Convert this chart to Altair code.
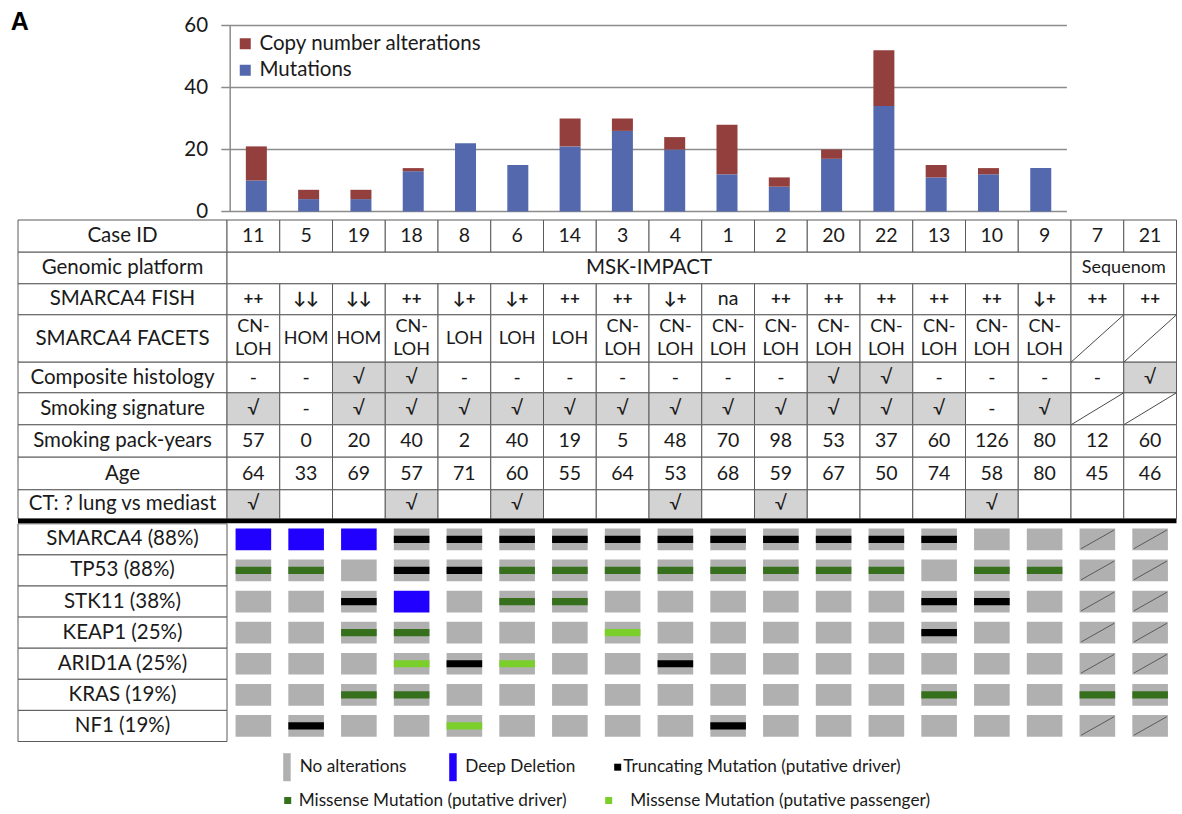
import altair as alt
import pandas as pd

# ---------------- data ----------------
cases = ["11", "5", "19", "18", "8", "6", "14", "3", "4", "1", "2", "20", "22", "13", "10", "9", "7", "21"]
bar_cases = cases[:16]
mutations = [10, 4, 4, 13, 22, 15, 21, 26, 20, 12, 8, 17, 34, 11, 12, 14]
copy_number = [11, 3, 3, 1, 0, 0, 9, 4, 4, 16, 3, 3, 18, 4, 2, 0]
series_names = ["Copy number alterations", "Mutations"]
y_ticks = [0, 20, 40, 60]

platforms = ["MSK-IMPACT", "Sequenom"]
platform_counts = [16, 2]

fish = ["++", "↓↓", "↓↓", "++", "↓+", "↓+", "++", "++", "↓+", "na", "++", "++", "++", "++", "++", "↓+", "++", "++"]
facets = ["CN-\nLOH", "HOM", "HOM", "CN-\nLOH", "LOH", "LOH", "LOH"] + ["CN-\nLOH"] * 9 + [None, None]
composite = ["-", "-", "√", "√", "-", "-", "-", "-", "-", "-", "-", "√", "√", "-", "-", "-", "-", "√"]
smoking_sig = ["√", "-", "√", "√", "√", "√", "√", "√", "√", "√", "√", "√", "√", "√", "-", "√", None, None]
pack_years = [57, 0, 20, 40, 2, 40, 19, 5, 48, 70, 98, 53, 37, 60, 126, 80, 12, 60]
age = [64, 33, 69, 57, 71, 60, 55, 64, 53, 68, 59, 67, 50, 74, 58, 80, 45, 46]
ct_flag = ["√", "", "", "√", "", "√", "", "", "√", "", "√", "", "", "", "√", "", "", ""]

row_labels = ["Case ID", "Genomic platform", "SMARCA4 FISH", "SMARCA4 FACETS",
              "Composite histology", "Smoking signature", "Smoking pack-years",
              "Age", "CT: ? lung vs mediast"]

genes = ["SMARCA4 (88%)", "TP53 (88%)", "STK11 (38%)", "KEAP1 (25%)",
         "ARID1A (25%)", "KRAS (19%)", "NF1 (19%)"]
# N none, D deep deletion, T truncating, M missense driver, P missense passenger, X not profiled
onco_smarca4 = list("DDDTTTTTTTTTTTNNXX")
onco_tp53 = list("MMNTTMMMMMMMMNMMXX")
onco_stk11 = list("NNTDNMMNNNNNNTTNXX")
onco_keap1 = list("NNMMNNNPNNNNNTNNXX")
onco_arid1a = list("NNNPTPNNTNNNNNNNXX")
onco_kras = list("NNMMNNNNNNNNNMNNMM")
onco_nf1 = list("NTNNPNNNNTNNNNNNXX")
onco = [onco_smarca4, onco_tp53, onco_stk11, onco_keap1, onco_arid1a, onco_kras, onco_nf1]

legend_labels = ["No alterations", "Deep Deletion", "Truncating Mutation (putative driver)",
                 "Missense Mutation (putative driver)", "Missense Mutation (putative passenger)"]

# ---------------- styles / layout ----------------
FONT = "Lato"
TXT = "#1a1a1a"
BLUE = "#5469ad"
RED = "#923f3d"
GRID_C = "#8c8c8c"
BORDER_C = "#5a5a5a"
SHADE_C = "#d3d3d3"
GRAY_C = "#b0b0b0"
DEEP_C = "#2200ff"
TRUNC_C = "#000000"
MDRV_C = "#36701c"
MPAS_C = "#7bcf2a"
code_color = {"T": TRUNC_C, "M": MDRV_C, "P": MPAS_C}
legend_colors = [GRAY_C, DEEP_C, TRUNC_C, MDRV_C, MPAS_C]

COL_W = 52.75
LAB_W = 209.0
N_COL = len(cases)
XL = -LAB_W / COL_W
PLOT_W = LAB_W + N_COL * COL_W
BAR_H = 186.0
TICK_LEN = 8.5
GAP = 8.5
ROW_H = [32.2, 31.6, 31.0, 47.4, 30.6, 32.0, 32.4, 32.6, 29.0]
THICK_Y = 301.0
ONCO_TOP = 303.8
ONCO_H = 31.1
CELL_W = 35.6
CELL_H = 21.7
MUT_H = 7.2
LINE_H = 23.4
PANEL_H = 590.0
PAGE_X0 = 21.8      # page x of the panels' left edge
PAGE_Y0 = 219.5     # page y of the table top


def ux(px):
    return (px - PAGE_X0 - LAB_W) / COL_W


def vy(py):
    return py - PAGE_Y0


# ---------------- bar panel ----------------
bar_rows = []
for i, c in enumerate(bar_cases):
    bar_rows.append({"case": c, "xc": i + 0.5, "series": "Mutations", "value": mutations[i], "ord": 0})
    bar_rows.append({"case": c, "xc": i + 0.5, "series": "Copy number alterations", "value": copy_number[i], "ord": 1})
bar_df = pd.DataFrame(bar_rows)

xs_bar = alt.Scale(domain=[XL, N_COL], nice=False, zero=False)
ys_bar = alt.Scale(domain=[0, 60], nice=False, zero=True)

grid = alt.Chart(pd.DataFrame({"v": y_ticks})).mark_rule(
    color=GRID_C, strokeWidth=1.5
).encode(
    y=alt.Y("v:Q", scale=ys_bar, axis=None),
    x=alt.X(datum=-9 / COL_W, type="quantitative", scale=xs_bar, axis=None),
    x2=alt.X2(datum=len(bar_cases)),
)

y_domain = alt.Chart(pd.DataFrame({"y0": [y_ticks[0]], "y1": [y_ticks[-1]]})).mark_rule(
    color=GRID_C, strokeWidth=1.5
).encode(
    x=alt.X(datum=0, type="quantitative", scale=xs_bar, axis=None),
    y=alt.Y("y0:Q", scale=ys_bar, axis=None), y2="y1",
)

y_labels = alt.Chart(pd.DataFrame({"v": y_ticks})).mark_text(
    font=FONT, fontSize=20.5, color=TXT, align="right", baseline="middle"
).encode(
    x=alt.X(datum=ux(208.5), type="quantitative", scale=xs_bar, axis=None),
    y=alt.Y("v:Q", scale=ys_bar, axis=None),
    text="v:Q",
)

bars = alt.Chart(bar_df).mark_bar(size=21).encode(
    x=alt.X("xc:Q", scale=xs_bar,
            axis=alt.Axis(values=list(range(len(bar_cases) + 1)), labels=False, domain=False,
                          grid=False, ticks=True, tickSize=TICK_LEN, tickColor=GRID_C,
                          tickWidth=1.5, title=None)),
    y=alt.Y("value:Q", stack="zero", scale=ys_bar, axis=None),
    color=alt.Color("series:N", scale=alt.Scale(domain=series_names, range=[RED, BLUE]),
                    legend=alt.Legend(orient="none", legendX=217, legendY=8, title=None,
                                      symbolType="square", symbolSize=121, symbolStrokeWidth=0,
                                      labelFont=FONT, labelFontSize=20.5, labelColor=TXT,
                                      labelLimit=400, rowPadding=5.5, labelOffset=4, padding=0)),
    order=alt.Order("ord:Q"),
)

panel_label = alt.Chart(pd.DataFrame({"t": ["A"]})).mark_text(
    font="Liberation Sans", fontWeight="bold", fontSize=25, align="left", baseline="top", color="#000"
).encode(
    x=alt.X(datum=ux(9.5), type="quantitative", scale=xs_bar, axis=None),
    y=alt.Y(datum=60 + 16 / (BAR_H / 60), type="quantitative", scale=ys_bar, axis=None),
    text="t:N",
)

bar_panel = alt.layer(grid, y_domain, bars, y_labels, panel_label).properties(width=PLOT_W, height=BAR_H)

# ---------------- table panel ----------------
xs = alt.Scale(domain=[XL, N_COL], nice=False, zero=False)
ys = alt.Scale(domain=[0, PANEL_H], nice=False, zero=False, reverse=True)


def X(f):
    return alt.X(f, type="quantitative", scale=xs, axis=None)


def Y(f):
    return alt.Y(f, type="quantitative", scale=ys, axis=None)


values_by_row = {0: cases, 2: fish, 3: facets, 4: composite, 5: smoking_sig,
                 6: pack_years, 7: age, 8: ct_flag}
shaded_rows = {4, 5, 8}

cells, texts, slashes = [], [], []
y = 0.0
for r, lab in enumerate(row_labels):
    y0, y1 = y, y + ROW_H[r]
    ym = (y0 + y1) / 2
    cells.append({"x0": XL, "x1": 0, "y0": y0, "y1": y1, "fill": "#ffffff"})
    texts.append({"x": XL / 2, "y": ym, "text": lab, "style": "label"})
    if r == 1:
        start = 0
        for name, n in zip(platforms, platform_counts):
            cells.append({"x0": start, "x1": start + n, "y0": y0, "y1": y1, "fill": "#ffffff"})
            texts.append({"x": start + n / 2, "y": ym, "text": name,
                          "style": "label" if n > 2 else "small"})
            start += n
    else:
        for i, v in enumerate(values_by_row[r]):
            fill = SHADE_C if (r in shaded_rows and v == "√") else "#ffffff"
            cells.append({"x0": i, "x1": i + 1, "y0": y0, "y1": y1, "fill": fill})
            if v is None:
                slashes.append({"x0": i, "x1": i + 1, "yb": y1, "yt": y0})
            elif v != "":
                s = str(v)
                style = "cell"
                if r == 2 and s != "na":
                    style = "fish"
                elif r == 3:
                    style = "facets"
                n_lines = s.count("\n") + 1
                texts.append({"x": i + 0.5, "y": ym - (n_lines - 1) * LINE_H / 2,
                              "text": s, "style": style})
    y = y1

# oncoprint
gene_cells, gene_texts, base, muts, oslash = [], [], [], [], []
hw = CELL_W / 2 / COL_W
for g, codes in enumerate(onco):
    t0 = ONCO_TOP + g * ONCO_H
    yc = t0 + ONCO_H / 2
    gene_cells.append({"x0": XL, "x1": 0, "y0": t0, "y1": t0 + ONCO_H})
    gene_texts.append({"x": XL / 2, "y": yc, "text": genes[g]})
    for i, c in enumerate(codes):
        xc = i + 0.5
        base.append({"x0": xc - hw, "x1": xc + hw, "y0": yc - CELL_H / 2, "y1": yc + CELL_H / 2,
                     "fill": DEEP_C if c == "D" else GRAY_C})
        if c in code_color:
            muts.append({"x0": xc - hw, "x1": xc + hw, "y0": yc - MUT_H / 2, "y1": yc + MUT_H / 2,
                         "fill": code_color[c]})
        if c == "X":
            oslash.append({"x0": xc - hw + 1.5 / COL_W, "x1": xc + hw - 1 / COL_W,
                           "yb": yc + CELL_H / 2 - 1.5, "yt": yc - CELL_H / 2 + 1.5})

cells_df = pd.DataFrame(cells)
texts_df = pd.DataFrame(texts)

cell_layer = alt.Chart(cells_df).mark_rect(stroke=BORDER_C, strokeWidth=1).encode(
    x=X("x0"), x2="x1", y=Y("y0"), y2="y1", fill=alt.Fill("fill:N", scale=None))

slash_layer = alt.Chart(pd.DataFrame(slashes)).mark_rule(color="#4a4a4a", strokeWidth=1).encode(
    x=X("x0"), x2="x1", y=Y("yb"), y2="yt")


def text_layer(df, **kw):
    return alt.Chart(df).mark_text(font=FONT, color=TXT, baseline="middle", align="center",
                                   lineBreak="\n", lineHeight=LINE_H, **kw).encode(
        x=X("x"), y=Y("y"), text="text:N")


t_label = text_layer(texts_df[texts_df["style"] == "label"], fontSize=20.5)
t_cell = text_layer(texts_df[texts_df["style"] == "cell"], fontSize=19.5)
t_facets = text_layer(texts_df[texts_df["style"] == "facets"], fontSize=18)
t_fish = text_layer(texts_df[texts_df["style"] == "fish"], fontSize=17, fontWeight="bold")
t_small = text_layer(texts_df[texts_df["style"] == "small"], fontSize=18)

thick = alt.Chart(pd.DataFrame({"x0": [XL], "x1": [N_COL], "y": [THICK_Y]})).mark_rule(
    color="#000000", strokeWidth=4.4).encode(x=X("x0"), x2="x1", y=Y("y"))

gene_cell_layer = alt.Chart(pd.DataFrame(gene_cells)).mark_rect(
    fill="#ffffff", stroke=BORDER_C, strokeWidth=1).encode(x=X("x0"), x2="x1", y=Y("y0"), y2="y1")
gene_text_layer = text_layer(pd.DataFrame(gene_texts), fontSize=20.5)

base_layer = alt.Chart(pd.DataFrame(base)).mark_rect().encode(
    x=X("x0"), x2="x1", y=Y("y0"), y2="y1", fill=alt.Fill("fill:N", scale=None))
mut_layer = alt.Chart(pd.DataFrame(muts)).mark_rect().encode(
    x=X("x0"), x2="x1", y=Y("y0"), y2="y1", fill=alt.Fill("fill:N", scale=None))
oslash_layer = alt.Chart(pd.DataFrame(oslash)).mark_rule(color="#5a5a5a", strokeWidth=1).encode(
    x=X("x0"), x2="x1", y=Y("yb"), y2="yt")

# legend (bottom)
LEG_ROW_Y = [766.7, 800.0]
leg_sw_left = [287, 453, 618, 288, 609]
leg_txt_left = [303.5, 469, 627, 302.5, 634]
leg_row = [0, 0, 0, 1, 1]
leg_tall = [True, True, False, False, False]
sw, lt = [], []
for k, lab in enumerate(legend_labels):
    cy = LEG_ROW_Y[leg_row[k]]
    h = 28 if leg_tall[k] else 7
    w = 7.5 if leg_tall[k] else 7
    sw.append({"x0": ux(leg_sw_left[k]), "x1": ux(leg_sw_left[k] + w),
               "y0": vy(cy - h / 2), "y1": vy(cy + h / 2), "fill": legend_colors[k]})
    lt.append({"x": ux(leg_txt_left[k]), "y": vy(cy), "text": lab})
leg_sw = alt.Chart(pd.DataFrame(sw)).mark_rect().encode(
    x=X("x0"), x2="x1", y=Y("y0"), y2="y1", fill=alt.Fill("fill:N", scale=None))
leg_txt = alt.Chart(pd.DataFrame(lt)).mark_text(
    font=FONT, fontSize=17.2, color=TXT, align="left", baseline="middle").encode(
    x=X("x"), y=Y("y"), text="text:N")

table_panel = alt.layer(
    cell_layer, slash_layer, t_label, t_cell, t_facets, t_fish, t_small, thick,
    gene_cell_layer, gene_text_layer, base_layer, mut_layer, oslash_layer,
    leg_sw, leg_txt,
).properties(width=PLOT_W, height=PANEL_H)

chart = alt.vconcat(bar_panel, table_panel, spacing=GAP, bounds="flush").properties(
    padding={"left": 10, "top": 9.5, "right": 0, "bottom": 0},
    background="#ffffff",
).configure_view(stroke=None)

chart.save("out.html", embed_options={"renderer": "svg", "actions": False})
